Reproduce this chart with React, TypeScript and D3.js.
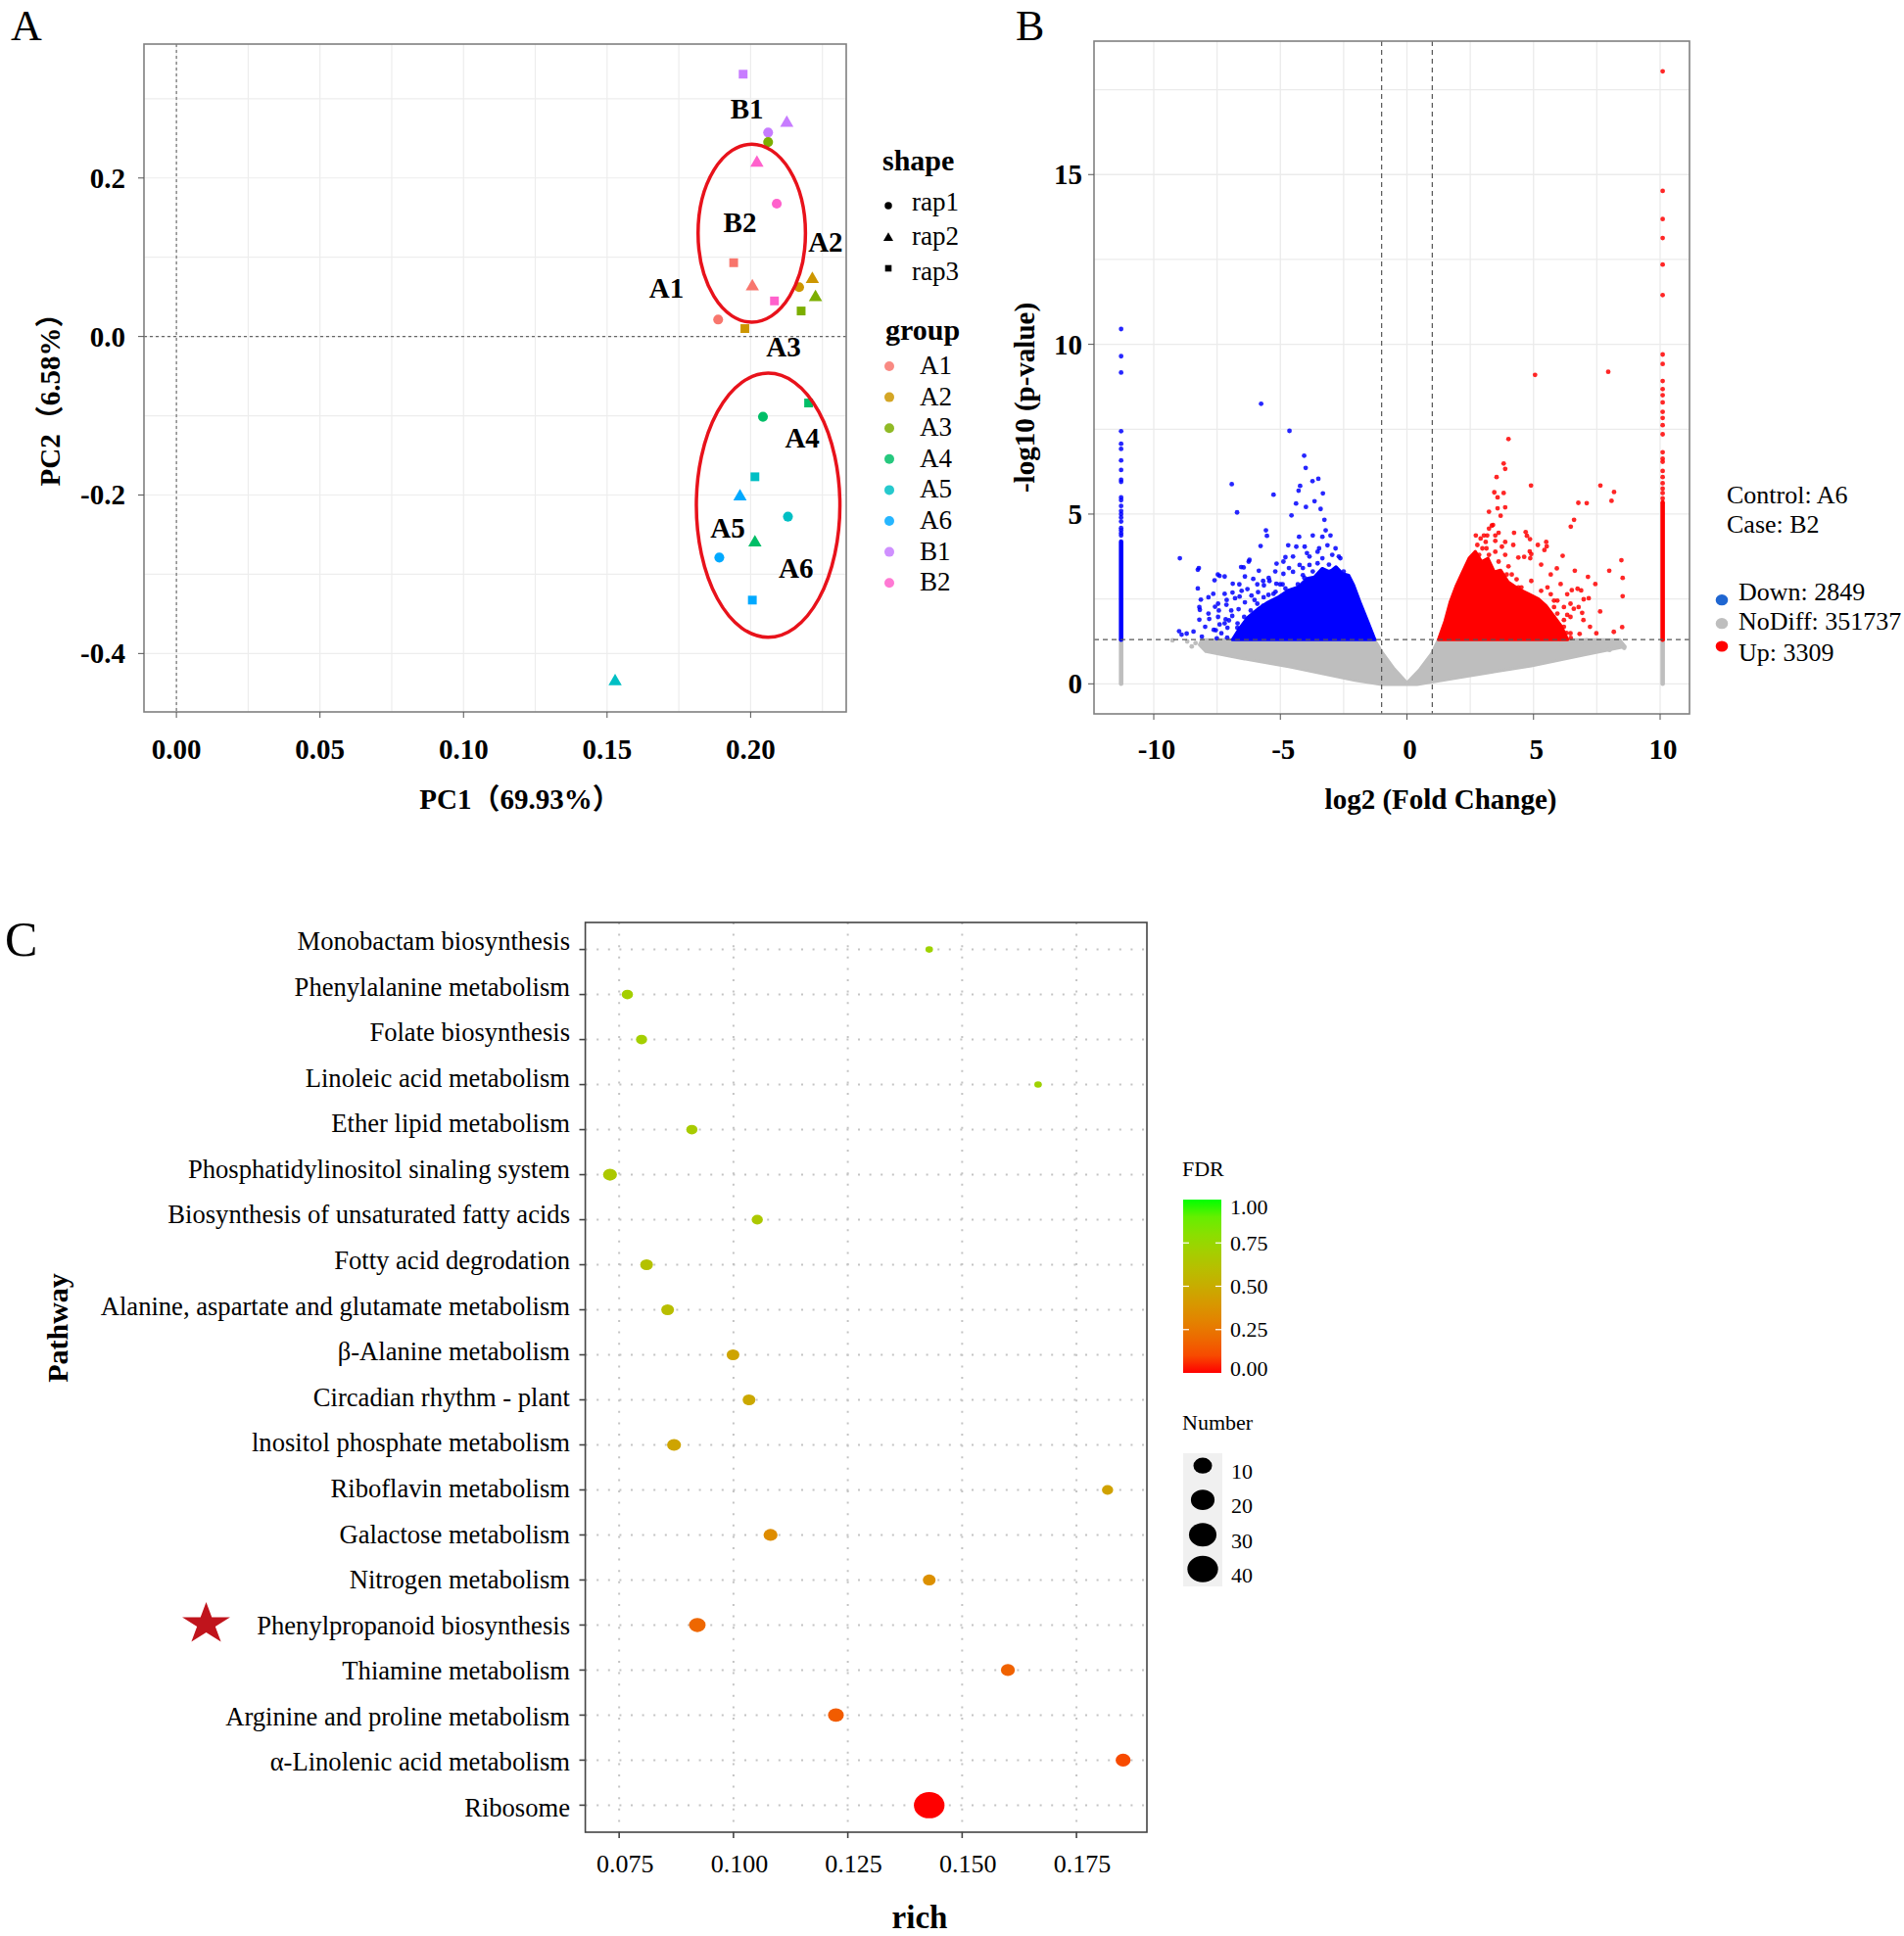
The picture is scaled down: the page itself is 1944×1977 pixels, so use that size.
import * as d3 from "d3";

const W = 1944;
const H = 1977;
const SERIF = "'Liberation Serif', 'Times New Roman', 'Noto Sans CJK SC', serif";

// ---------- A: PCA ----------
const pcaGroups = ["A1", "A2", "A3", "A4", "A5", "A6", "B1", "B2"];
const pcaColors = ["#F8766D", "#CD9600", "#7CAE00", "#00BE67", "#00BFC4", "#00A9FF", "#C77CFF", "#FF61CC"];
const pcaShapes = ["rap1", "rap2", "rap3"];
// group, replicate, PC1, PC2
const pcaSamples: [string, string, number, number][] = [
  ["B1", "rap3", 0.1974, 0.331],
  ["B1", "rap2", 0.2126, 0.2695],
  ["B1", "rap1", 0.2061, 0.2574],
  ["A3", "rap1", 0.2061, 0.2453],
  ["B2", "rap2", 0.2022, 0.2192],
  ["B2", "rap1", 0.2091, 0.1676],
  ["A1", "rap3", 0.1941, 0.0931],
  ["A1", "rap2", 0.2006, 0.063],
  ["A2", "rap1", 0.2169, 0.0623],
  ["A2", "rap2", 0.2215, 0.0724],
  ["A3", "rap2", 0.2226, 0.0496],
  ["B2", "rap3", 0.2083, 0.0449],
  ["A3", "rap3", 0.2176, 0.0322],
  ["A1", "rap1", 0.1887, 0.0214],
  ["A2", "rap3", 0.198, 0.01],
  ["A4", "rap3", 0.2202, -0.0839],
  ["A4", "rap1", 0.2043, -0.1013],
  ["A5", "rap3", 0.2015, -0.177],
  ["A6", "rap2", 0.1963, -0.2019],
  ["A5", "rap1", 0.213, -0.2273],
  ["A4", "rap2", 0.2015, -0.2601],
  ["A6", "rap1", 0.1891, -0.2789],
  ["A6", "rap3", 0.2006, -0.3326],
  ["A5", "rap2", 0.1528, -0.4351],
];
const pcaLabels: [string, number, number][] = [
  ["B1", 0.1987, 0.2876],
  ["B2", 0.1963, 0.1447],
  ["A2", 0.2261, 0.12],
  ["A1", 0.1707, 0.061],
  ["A3", 0.2115, -0.0121],
  ["A4", 0.218, -0.1281],
  ["A5", 0.192, -0.2407],
  ["A6", 0.2158, -0.2924],
];
// cx, cy, rx, ry in PC units
const pcaEllipses = [
  [0.2004, 0.1304, 0.0187, 0.1123],
  [0.2061, -0.2129, 0.025, 0.1666],
];
const pcaXTicks = [0, 0.05, 0.1, 0.15, 0.2];
const pcaXMinor = [0.025, 0.075, 0.125, 0.175, 0.225];
const pcaYTicks = [-0.4, -0.2, 0, 0.2];
const pcaYMinor = [-0.3, -0.1, 0.1, 0.3];

// ---------- B: volcano ----------
const fcCut = 1;
const pCut = 1.301;
const volXTicks = [-10, -5, 0, 5, 10];
const volXMinor = [-7.5, -2.5, 2.5, 7.5];
const volYTicks = [0, 5, 10, 15];
const volYMinor = [2.5, 7.5, 12.5, 17.5];
// dense clouds, outlines
const greyArea = [
  [-8.1, 1.3], [-1.28, 1.3], [-0.98, 0.93], [-0.5, 0.44], [0, 0.03], [0.5, 0.42], [0.98, 0.9], [1.24, 1.3],
  [8.4, 1.3], [8.62, 1.1], [7, 0.85], [4.91, 0.53], [2.33, 0.22], [0.4, -0.02], [-1.0, -0.02], [-2.05, 0.1],
  [-4.62, 0.5], [-6.56, 0.75], [-7.94, 0.95], [-8.2, 1.15],
];
const downArea = [
  [-1.26, 1.3], [-1.55, 1.85], [-1.85, 2.4], [-2.1, 2.9], [-2.3, 3.2], [-2.55, 3.25], [-2.8, 3.45], [-3.05, 3.3],
  [-3.35, 3.4], [-3.65, 3.15], [-3.95, 3.1], [-4.3, 2.85], [-4.7, 2.75], [-5.1, 2.55], [-5.5, 2.4], [-5.9, 2.2],
  [-6.3, 1.95], [-6.6, 1.65], [-6.9, 1.3],
];
const upArea = [
  [1.24, 1.3], [1.5, 1.85], [1.7, 2.4], [1.95, 2.9], [2.2, 3.3], [2.45, 3.7], [2.7, 3.9], [2.95, 3.6],
  [3.2, 3.7], [3.45, 3.3], [3.7, 3.35], [4.0, 3.0], [4.4, 2.8], [4.8, 2.65], [5.2, 2.5], [5.5, 2.3],
  [5.8, 2.0], [6.1, 1.7], [6.35, 1.3],
];
const downPoints = [
  [-5.76, 8.25], [-4.64, 7.45], [-4.06, 6.72], [-4.0, 6.36], [-3.73, 5.97], [-3.5, 6.04], [-4.28, 5.69], [-4.22, 5.83],
  [-3.32, 5.61], [-3.65, 5.38], [-4.38, 5.31], [-3.99, 5.21], [-3.41, 5.15], [-4.56, 4.96], [-3.26, 4.83], [-6.92, 5.88],
  [-6.71, 5.05], [-5.27, 5.57], [-8.97, 3.7], [-8.22, 3.41], [-8.26, 3.36], [-5.57, 4.52], [-5.53, 4.36], [-5.78, 4.06],
  [-6.22, 3.65], [-6.25, 3.6], [-6.55, 3.44], [-6.45, 3.43], [-4.8, 3.73], [-5.15, 3.54], [-5.85, 3.33], [-7.47, 3.22],
  [-7.4, 3.18], [-7.2, 3.16], [-7.6, 3.05], [-6.88, 2.95], [-6.4, 3.16], [-6.07, 3.09], [-5.68, 3.03], [-8.26, 2.81],
  [-8.14, 2.48], [-8.2, 2.26], [-8.18, 2.18], [-8.2, 1.89], [-7.81, 1.91], [-8.43, 1.54], [-8.7, 1.48], [-7.63, 1.59],
  [-7.55, 1.58], [-7.58, 2.27], [-7.43, 2.16], [-7.12, 2.47], [-7.13, 2.33], [-7.03, 1.87], [-6.89, 2.69], [-6.53, 2.74],
  [-6.61, 2.57], [-6.79, 2.52], [-7.09, 1.65], [-7.51, 1.34], [-7.1, 1.36], [-6.7, 1.65], [-6.6, 1.62], [-6.02, 2.47],
  [-5.68, 2.3], [-5.47, 2.62], [-5.19, 2.71], [-5.0, 2.4], [-4.8, 2.81], [-4.66, 2.61], [-4.88, 3.24], [-4.66, 3.41],
  [-4.91, 2.93], [-4.37, 4.04], [-4.04, 4.04], [-4.26, 4.33], [-3.95, 3.85], [-3.72, 4.37], [-3.34, 4.33], [-3.21, 4.52],
  [-3.02, 4.37], [-2.82, 3.99], [-2.69, 3.75], [-3.14, 4.08], [-3.53, 3.89], [-3.85, 3.5], [-3.53, 3.55], [-3.34, 3.36],
  [-3.02, 3.31], [-2.82, 3.12], [-2.56, 3.12], [-4.24, 3.5], [-4.5, 3.3], [-4.11, 3.2], [-3.66, 3.03], [-3.34, 2.93],
  [-2.5, 3.31], [-2.37, 3.17], [-2.3, 3.03], [-2.18, 2.88], [-5.43, 3.03], [-5.16, 2.95], [-5.65, 2.9], [-5.88, 2.7],
  [-6.14, 2.6], [-6.4, 2.4], [-6.65, 2.2], [-6.9, 2.0], [-7.16, 1.9], [-7.4, 1.75], [-9.0, 1.55], [-8.9, 1.45],
  [-3.08, 3.51], [-3.34, 3.7], [-2.82, 3.31], [-2.56, 2.93], [-3.08, 3.02], [-3.47, 3.12], [-3.72, 3.31], [-4.05, 3.12],
  [-4.31, 2.93], [-3.85, 2.84], [-3.34, 2.65], [-2.69, 2.65], [-4.63, 2.74], [-5.01, 2.93], [-5.27, 2.65], [-5.66, 2.55],
  [-5.91, 2.36], [-6.17, 2.16], [-6.43, 1.97], [-6.69, 1.78], [-7.2, 1.78], [-7.33, 1.49], [-6.56, 1.45], [-6.17, 1.49],
  [-5.53, 2.26], [-5.01, 2.36], [-4.37, 2.55], [-3.6, 2.45], [-2.95, 3.8], [-2.63, 3.7], [-3.47, 3.99], [-3.85, 3.75],
  [-4.5, 3.75], [-4.69, 4.08], [-4.11, 3.41], [-4.88, 3.6], [-5.2, 3.31], [-5.46, 3.12], [-5.91, 2.93], [-6.3, 2.79],
  [-6.62, 2.93], [-7.2, 2.65], [-7.65, 2.65], [-7.84, 2.55], [-7.46, 2.36], [-7.84, 2.07], [-7.46, 1.97], [-6.94, 2.16],
  [-7.97, 1.68], [-8.1, 1.39],
];
const upPoints = [
  [5.06, 9.1], [7.95, 9.19], [4.01, 7.21], [3.82, 6.49], [3.88, 6.33], [3.54, 6.09], [4.9, 5.84], [7.64, 5.84],
  [8.18, 5.65], [8.08, 5.39], [6.77, 5.33], [7.1, 5.32], [3.45, 5.64], [3.82, 5.62], [3.58, 5.49], [3.58, 5.17],
  [3.88, 5.2], [3.7, 4.95], [3.24, 5.07], [3.35, 4.66], [3.4, 4.68], [6.6, 4.83], [6.47, 4.63], [4.23, 4.45],
  [4.69, 4.47], [4.74, 4.36], [4.86, 4.26], [5.5, 4.18], [5.43, 3.94], [5.52, 4.05], [6.15, 3.77], [4.4, 3.72],
  [4.63, 3.74], [4.91, 3.82], [4.87, 3.7], [8.47, 3.64], [5.92, 3.4], [6.63, 3.33], [7.99, 3.33], [8.52, 3.12],
  [7.15, 3.15], [7.44, 2.94], [6.51, 2.76], [6.74, 2.8], [6.88, 2.75], [6.98, 2.49], [7.18, 2.52], [8.52, 2.58],
  [6.59, 2.21], [6.33, 2.03], [6.92, 2.09], [7.63, 2.13], [8.17, 1.53], [8.5, 1.67], [6.82, 1.47], [6.47, 1.35],
  [2.72, 4.37], [2.91, 4.28], [3.17, 4.37], [3.14, 3.99], [3.49, 4.21], [3.62, 4.45], [3.49, 3.89], [3.75, 4.04],
  [3.88, 3.8], [3.62, 3.6], [4.01, 3.46], [3.94, 3.22], [4.33, 3.08], [4.52, 2.84], [4.65, 2.64], [4.91, 3.03],
  [5.04, 2.45], [5.3, 2.74], [5.55, 2.84], [5.68, 2.64], [5.81, 2.45], [5.43, 2.26], [5.17, 2.07], [5.94, 2.07],
  [6.2, 1.88], [5.68, 1.88], [6.0, 1.6], [6.3, 1.5], [5.8, 1.45],
  [2.98, 3.99], [3.24, 3.8], [2.72, 3.6], [3.36, 3.22], [3.75, 3.03], [3.62, 2.64], [4.14, 3.22], [4.4, 2.84],
  [4.14, 2.45], [4.65, 2.26], [4.91, 1.88], [5.17, 1.68], [5.43, 1.49], [5.68, 1.49], [5.94, 1.59], [6.2, 1.68],
  [6.46, 1.49], [4.27, 1.97], [4.65, 1.78], [4.01, 2.17], [3.11, 4.18], [2.85, 3.8], [3.49, 4.37], [3.24, 4.57],
  [3.04, 4.37], [2.78, 4.09], [3.88, 4.18], [4.2, 4.09], [5.17, 4.09], [4.85, 3.9], [5.3, 3.51], [5.68, 3.22],
  [6.07, 2.94], [6.33, 2.64], [6.46, 2.36], [6.78, 2.26], [5.94, 2.45], [6.2, 2.26], [5.43, 1.97], [5.81, 1.88],
  [6.46, 1.97], [6.97, 1.88], [7.23, 1.68], [7.48, 1.49], [5.81, 2.26],
];
const greyPoints = [
  [-9.26, 1.28], [-8.68, 1.25], [-8.35, 1.2], [-8.5, 1.1], [8.58, 1.06], [7.8, 1.15], [7.4, 1.2], [6.9, 1.12],
  [6.5, 1.25], [6.1, 1.18], [7.1, 1.28], [8.0, 1.0],
];
// columns of capped fold changes
const downCapFC = -11.29;
const upCapFC = 10.1;
const downCapPoints = [10.45, 9.65, 9.17, 7.44, 7.07, 6.92, 6.58, 6.3, 6.01, 5.95, 5.49, 5.41, 5.24, 5.09, 5.0, 4.9, 4.78, 4.59, 4.52, 4.44, 4.37];
const upCapPoints = [18.04, 14.52, 13.69, 13.13, 12.35, 11.45, 9.7, 9.42, 8.92, 8.68, 8.5, 8.29, 8.01, 7.83, 7.62, 7.35, 6.82, 6.63, 6.54, 6.27, 6.09, 5.91, 5.75, 5.62, 5.46];
const downCapSpan = [1.3, 4.19];
const upCapSpan = [1.3, 5.34];
const volLegend = ["Down: 2849", "NoDiff: 351737", "Up: 3309"];
const volLegendColors = ["#1F66D1", "#BEBEBE", "#FF0000"];

// ---------- C: KEGG enrichment ----------
const pathways = [
  "Monobactam biosynthesis",
  "Phenylalanine metabolism",
  "Folate biosynthesis",
  "Linoleic acid metabolism",
  "Ether lipid metabolism",
  "Phosphatidylinositol sinaling system",
  "Biosynthesis of unsaturated fatty acids",
  "Fotty acid degrodation",
  "Alanine, aspartate and glutamate metabolism",
  "β-Alanine metabolism",
  "Circadian rhythm - plant",
  "lnositol phosphate metabolism",
  "Riboflavin metabolism",
  "Galactose metabolism",
  "Nitrogen metabolism",
  "Phenylpropanoid biosynthesis",
  "Thiamine metabolism",
  "Arginine and proline metabolism",
  "α-Linolenic acid metabolism",
  "Ribosome",
];
const richValues = [0.1428, 0.0768, 0.0799, 0.1666, 0.0909, 0.073, 0.1052, 0.081, 0.0856, 0.0999, 0.1034, 0.087, 0.1818, 0.1081, 0.1428, 0.0921, 0.16, 0.1224, 0.1852, 0.1428];
const geneNumber = [1, 2, 2, 1, 2, 4, 2, 3, 3, 3, 3, 4, 2, 4, 3, 7, 4, 6, 5, 40];
const fdrValues = [0.72, 0.7, 0.7, 0.72, 0.68, 0.66, 0.66, 0.62, 0.6, 0.46, 0.48, 0.46, 0.45, 0.34, 0.36, 0.19, 0.17, 0.15, 0.1, 0.0];
const richTicks = [0.075, 0.1, 0.125, 0.15, 0.175];
const fdrTicks = [0, 0.25, 0.5, 0.75, 1];
const numberTicks = [10, 20, 30, 40];
const starredPathway = "Phenylpropanoid biosynthesis";

const fdrColor = d3.scaleLinear<string>().domain([0, 1]).range(["#FF0000", "#00FF00"]).interpolate(d3.interpolateLab);
// ggplot-like area scale: diameter grows with sqrt of rescaled count
const sizeRange = d3.scaleLinear().domain([0, 1]).range([7.65, 31.3]);
const dotDiameter = (n: number) => sizeRange(Math.sqrt((n - 1) / 39));
const hyphen = (s: string) => s.replace("−", "-");

function PanelA() {
  const x = d3.scaleLinear().domain([-0.0113, 0.2333]).range([147, 864]);
  const y = d3.scaleLinear().domain([-0.4737, 0.369]).range([727, 45]);
  const color = d3.scaleOrdinal<string, string>().domain(pcaGroups).range(pcaColors);
  const symbols = [d3.symbolCircle, d3.symbolTriangle, d3.symbolSquare];
  const sizes = [80, 80, 80];
  const sym = (rep: string, s = 1) => {
    const i = pcaShapes.indexOf(rep);
    return d3.symbol(symbols[i], sizes[i] * s)() as string;
  };
  const fmtX = d3.format(".2f");
  const fmtY = d3.format(".1f");
  const shapeSymY = [210, 243, 274];
  const shapeTextY = [215, 250, 286];
  return (
    <g>
      <text x={11} y={41} fontSize={44}>A</text>
      {pcaXMinor.concat(pcaXTicks).map((v) => (
        <line key={"gx" + v} x1={x(v)} x2={x(v)} y1={45} y2={727} stroke="#EDEDED" strokeWidth={1.2} />
      ))}
      {pcaYMinor.concat(pcaYTicks).map((v) => (
        <line key={"gy" + v} x1={147} x2={864} y1={y(v)} y2={y(v)} stroke="#EDEDED" strokeWidth={1.2} />
      ))}
      <line x1={x(0)} x2={x(0)} y1={45} y2={727} stroke="#666" strokeDasharray="3,3" strokeWidth={1.1} />
      <line x1={147} x2={864} y1={y(0)} y2={y(0)} stroke="#666" strokeDasharray="3,3" strokeWidth={1.1} />
      {pcaSamples.map(([g, r, px, py], i) => (
        <path key={i} d={sym(r)} transform={`translate(${x(px)},${y(py)})`} fill={color(g)} />
      ))}
      {pcaEllipses.map(([cx, cy, rx, ry], i) => (
        <ellipse key={i} cx={x(cx)} cy={y(cy)} rx={x(cx + rx) - x(cx)} ry={y(cy) - y(cy + ry)}
          fill="none" stroke="#E8121B" strokeWidth={3.5} />
      ))}
      {pcaLabels.map(([t, px, py]) => (
        <text key={t} x={x(px)} y={y(py)} dy="0.35em" textAnchor="middle" fontWeight="bold" fontSize={29}>{t}</text>
      ))}
      <rect x={147} y={45} width={717} height={682} fill="none" stroke="#808080" strokeWidth={1.6} />
      {pcaXTicks.map((v) => (
        <g key={"tx" + v}>
          <line x1={x(v)} x2={x(v)} y1={727} y2={733} stroke="#555" />
          <text x={x(v)} y={775} textAnchor="middle" fontWeight="bold" fontSize={29}>{fmtX(v)}</text>
        </g>
      ))}
      {pcaYTicks.map((v) => (
        <g key={"ty" + v}>
          <line x1={141} x2={147} y1={y(v)} y2={y(v)} stroke="#555" />
          <text x={128} y={y(v) + 10} textAnchor="end" fontWeight="bold" fontSize={29}>{hyphen(fmtY(v))}</text>
        </g>
      ))}
      <text x={531} y={826} textAnchor="middle" fontWeight="bold" fontSize={29}>PC1（69.93%）</text>
      <text transform="translate(61,401) rotate(-90)" textAnchor="middle" fontWeight="bold" fontSize={29}>PC2（6.58%）</text>
      {/* legend */}
      <text x={901} y={174} fontWeight="bold" fontSize={30}>shape</text>
      {pcaShapes.map((r, i) => (
        <g key={r}>
          <path d={sym(r, 0.55)} transform={`translate(907,${shapeSymY[i]})`} fill="#000" />
          <text x={931} y={shapeTextY[i]} fontSize={27}>{r}</text>
        </g>
      ))}
      <text x={904} y={347} fontWeight="bold" fontSize={30}>group</text>
      {pcaGroups.map((g, i) => (
        <g key={g}>
          <circle cx={908} cy={374 + i * 31.6} r={5} fill={color(g)} opacity={0.85} />
          <text x={939} y={382 + i * 31.6} fontSize={27}>{g}</text>
        </g>
      ))}
    </g>
  );
}

function PanelB() {
  const x = d3.scaleLinear().domain([-12.36, 11.16]).range([1117, 1725]);
  const y = d3.scaleLinear().domain([-0.885, 18.93]).range([729, 42]);
  const area = d3.line().x((d) => x(d[0])).y((d) => y(d[1])).curve(d3.curveLinearClosed);
  const r = 2.4;
  return (
    <g>
      <text x={1037} y={41} fontSize={44}>B</text>
      {volXMinor.concat(volXTicks).map((v) => (
        <line key={"gx" + v} x1={x(v)} x2={x(v)} y1={42} y2={729} stroke="#EBEBEB" strokeWidth={1.3} />
      ))}
      {volYMinor.concat(volYTicks).map((v) => (
        <line key={"gy" + v} x1={1117} x2={1725} y1={y(v)} y2={y(v)} stroke="#EBEBEB" strokeWidth={1.3} />
      ))}
      <path d={area(greyArea as [number, number][]) as string} fill="#BEBEBE" stroke="#BEBEBE" strokeWidth={3} strokeLinejoin="round" />
      {greyPoints.map(([a, b], i) => <circle key={"gp" + i} cx={x(a)} cy={y(b)} r={r} fill="#BEBEBE" />)}
      <line x1={x(downCapFC)} x2={x(downCapFC)} y1={y(0)} y2={y(pCut)} stroke="#BEBEBE" strokeWidth={4.6} strokeLinecap="round" />
      <line x1={x(upCapFC)} x2={x(upCapFC)} y1={y(0)} y2={y(pCut)} stroke="#BEBEBE" strokeWidth={4.6} strokeLinecap="round" />
      <path d={area(downArea as [number, number][]) as string} fill="#0000FF" stroke="#0000FF" strokeWidth={3} strokeLinejoin="round" />
      <path d={area(upArea as [number, number][]) as string} fill="#FF0000" stroke="#FF0000" strokeWidth={3} strokeLinejoin="round" />
      {downPoints.map(([a, b], i) => <circle key={"dp" + i} cx={x(a)} cy={y(b)} r={r} fill="#0000FF" opacity={0.85} />)}
      {upPoints.map(([a, b], i) => <circle key={"up" + i} cx={x(a)} cy={y(b)} r={r} fill="#FF0000" opacity={0.85} />)}
      <line x1={x(downCapFC)} x2={x(downCapFC)} y1={y(downCapSpan[0])} y2={y(downCapSpan[1])} stroke="#0000FF" strokeWidth={4.6} strokeLinecap="round" />
      <line x1={x(upCapFC)} x2={x(upCapFC)} y1={y(upCapSpan[0])} y2={y(upCapSpan[1])} stroke="#FF0000" strokeWidth={4.6} strokeLinecap="round" />
      {downCapPoints.map((b, i) => <circle key={"dc" + i} cx={x(downCapFC)} cy={y(b)} r={r} fill="#0000FF" opacity={0.85} />)}
      {upCapPoints.map((b, i) => <circle key={"uc" + i} cx={x(upCapFC)} cy={y(b)} r={r} fill="#FF0000" opacity={0.85} />)}
      {[-fcCut, fcCut].map((v) => (
        <line key={"vc" + v} x1={x(v)} x2={x(v)} y1={42} y2={729} stroke="#555" strokeDasharray="5,4" strokeWidth={1.2} />
      ))}
      <line x1={1117} x2={1725} y1={y(pCut)} y2={y(pCut)} stroke="#555" strokeDasharray="5,4" strokeWidth={1.2} />
      <rect x={1117} y={42} width={608} height={687} fill="none" stroke="#808080" strokeWidth={1.6} />
      {volXTicks.map((v) => (
        <g key={"tx" + v}>
          <line x1={x(v)} x2={x(v)} y1={729} y2={735} stroke="#555" />
          <text x={x(v) + 3} y={775} textAnchor="middle" fontWeight="bold" fontSize={29}>{v}</text>
        </g>
      ))}
      {volYTicks.map((v) => (
        <g key={"ty" + v}>
          <line x1={1111} x2={1117} y1={y(v)} y2={y(v)} stroke="#555" />
          <text x={1105} y={y(v) + 10} textAnchor="end" fontWeight="bold" fontSize={29}>{v}</text>
        </g>
      ))}
      <text x={1471} y={826} textAnchor="middle" fontWeight="bold" fontSize={29}>log2 (Fold Change)</text>
      <text transform="translate(1056,406) rotate(-90)" textAnchor="middle" fontWeight="bold" fontSize={29}>-log10 (p-value)</text>
      <text x={1763} y={514} fontSize={26}>Control: A6</text>
      <text x={1763} y={544} fontSize={26}>Case: B2</text>
      {volLegend.map((t, i) => (
        <g key={t}>
          <ellipse cx={1758} cy={[612.7, 636.7, 660][i]} rx={6.3} ry={5.6} fill={volLegendColors[i]} />
          <text x={1775} y={[613, 643, 675][i]} fontSize={26}>{t}</text>
        </g>
      ))}
    </g>
  );
}

function PanelC() {
  const x = d3.scaleLinear().domain([0.0676, 0.1904]).range([597.6, 1171]);
  const y = d3.scalePoint<string>().domain(pathways).range([942, 1871]).padding(0.6);
  const yLabel = d3.scalePoint<string>().domain(pathways).range([970, 1855]);
  const fmt = d3.format(".3f");
  const starY = y(starredPathway) as number;
  const star = d3.symbol(d3.symbolStar, 560)() as string;
  const barTop = 1225;
  const barBottom = 1402;
  const fdrY = d3.scaleLinear().domain([0, 1]).range([barBottom, barTop]);
  const legendYs = [1496.7, 1531.7, 1567.3, 1602.3];
  return (
    <g>
      <defs>
        <linearGradient id="fdrGrad" x1="0" y1="1" x2="0" y2="0">
          {d3.range(0, 1.001, 0.1).map((t) => (
            <stop key={t} offset={t} stopColor={fdrColor(t)} />
          ))}
        </linearGradient>
      </defs>
      <text x={5} y={976} fontSize={50}>C</text>
      {richTicks.map((v) => (
        <line key={"gx" + v} x1={x(v)} x2={x(v)} y1={942} y2={1871} stroke="#C4C4C4" strokeWidth={2} strokeDasharray="2,9.6" />
      ))}
      {pathways.map((p) => (
        <line key={"gy" + p} x1={597.6} x2={1171} y1={y(p)} y2={y(p)} stroke="#C4C4C4" strokeWidth={2} strokeDasharray="2,9.6" />
      ))}
      {pathways.map((p, i) => {
        const d = dotDiameter(geneNumber[i]);
        return (
          <ellipse key={"dot" + p} cx={x(richValues[i])} cy={y(p)} rx={d / 2} ry={d * 0.43}
            fill={fdrColor(fdrValues[i])} />
        );
      })}
      <rect x={597.6} y={942} width={573.4} height={929} fill="none" stroke="#444" strokeWidth={1.6} />
      {pathways.map((p) => (
        <g key={"ly" + p}>
          <line x1={591.5} x2={597.6} y1={y(p)} y2={y(p)} stroke="#444" strokeWidth={1.6} />
          <text x={582} y={yLabel(p)} textAnchor="end" fontSize={26.6}>{p}</text>
        </g>
      ))}
      <path d={star} transform={`translate(210.5,${starY - 1}) scale(1.15,1)`} fill="#C0141C" />
      {richTicks.map((v) => (
        <g key={"tx" + v}>
          <line x1={x(v)} x2={x(v)} y1={1871} y2={1877} stroke="#444" strokeWidth={1.6} />
          <text x={x(v) + 6} y={1912} textAnchor="middle" fontSize={26}>{fmt(v)}</text>
        </g>
      ))}
      <text x={939} y={1969} textAnchor="middle" fontWeight="bold" fontSize={33}>rich</text>
      <text transform="translate(69,1356) rotate(-90)" textAnchor="middle" fontWeight="bold" fontSize={30}>Pathway</text>
      {/* FDR legend */}
      <text x={1207} y={1201} fontSize={22}>FDR</text>
      <rect x={1208} y={barTop} width={39} height={barBottom - barTop} fill="url(#fdrGrad)" />
      {fdrTicks.map((v) => (
        <g key={"fl" + v}>
          {v > 0 && v < 1 && (
            <g>
              <line x1={1208} x2={1214} y1={fdrY(v)} y2={fdrY(v)} stroke="#fff" strokeWidth={1.2} />
              <line x1={1241} x2={1247} y1={fdrY(v)} y2={fdrY(v)} stroke="#fff" strokeWidth={1.2} />
            </g>
          )}
          <text x={1256} y={Math.min(Math.max(fdrY(v), 1232), 1397.5) + 7.5} fontSize={22}>{d3.format(".2f")(v)}</text>
        </g>
      ))}
      {/* Number legend */}
      <text x={1207} y={1460} fontSize={22}>Number</text>
      <rect x={1208} y={1484} width={40} height={136} fill="#F0F0F0" />
      {numberTicks.map((n, i) => {
        const d = dotDiameter(n);
        return (
          <g key={"nl" + n}>
            <ellipse cx={1228} cy={legendYs[i]} rx={d / 2} ry={d * 0.43} fill="#000" />
            <text x={1257} y={legendYs[i] + 13.5} fontSize={22}>{n}</text>
          </g>
        );
      })}
    </g>
  );
}

export default function App() {
  return (
    <svg width={W} height={H} fontFamily={SERIF}
      style={{ position: "absolute", left: 0, top: 0, display: "block", background: "#fff" }}>
      <rect x={0} y={0} width={W} height={H} fill="#fff" />
      <PanelA />
      <PanelB />
      <PanelC />
    </svg>
  );
}
